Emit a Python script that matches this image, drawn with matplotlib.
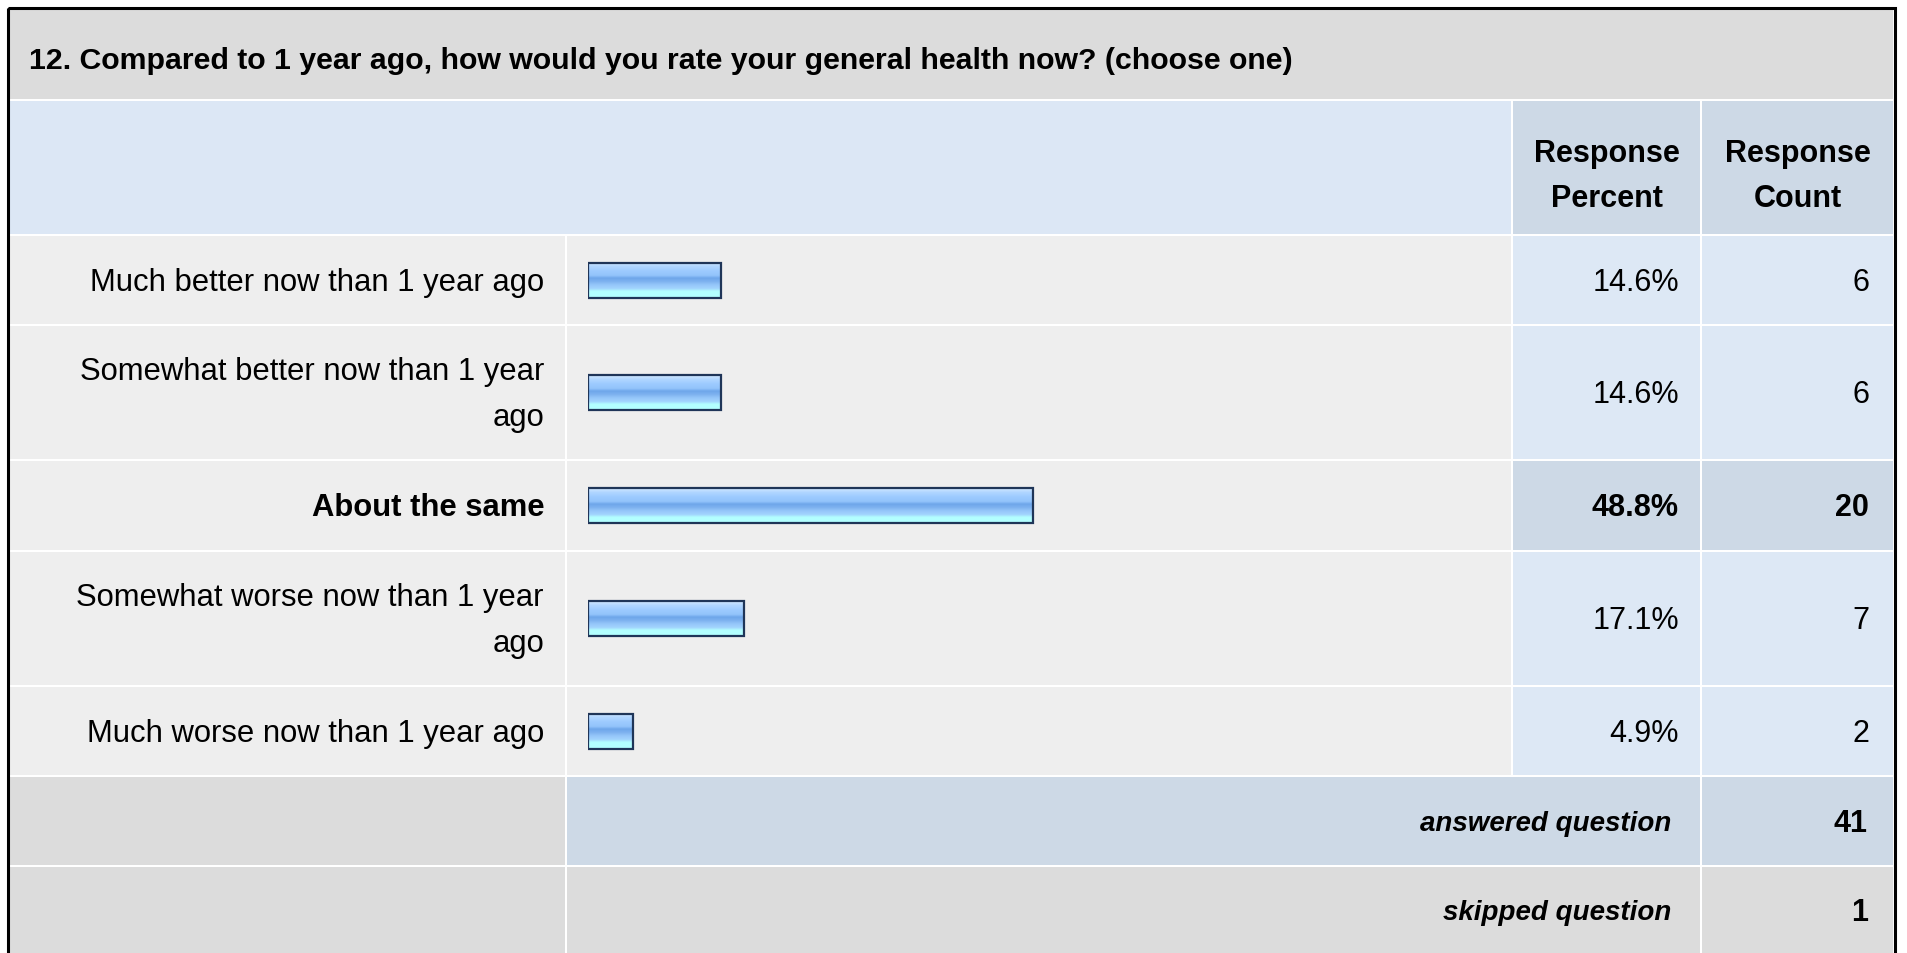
import numpy as np
import matplotlib
matplotlib.use("Agg")
import matplotlib.pyplot as plt
from matplotlib.patches import Rectangle
from matplotlib.colors import to_rgb

# ---------------- data ----------------
title = "12. Compared to 1 year ago, how would you rate your general health now? (choose one)"
categories = [
    "Much better now than 1 year ago",
    "Somewhat better now than 1 year\nago",
    "About the same",
    "Somewhat worse now than 1 year\nago",
    "Much worse now than 1 year ago",
]
percents = [14.6, 14.6, 48.8, 17.1, 4.9]
counts = [6, 6, 20, 7, 2]
header_percent = "Response\nPercent"
header_count = "Response\nCount"
answered_label = "answered question"
skipped_label = "skipped question"
answered = 41
skipped = 1

# ---------------- style / layout ----------------
W, H = 1907, 954
FONT = "Liberation Sans"
FS = 22
FS_LABEL = 22.3
FS_ITAL = 20
C_TITLE = "#dcdcdc"
C_HEAD = "#dce7f5"
C_HEAD_DARK = "#cdd9e6"
C_CELL = "#eeeeee"
C_VAL = "#dde8f5"
C_GRAY = "#dcdcdc"

# column edges (px)
X_L0, X_L1 = 9, 565
X_B0, X_B1 = 567, 1511
X_P0, X_P1 = 1513, 1700
X_C0, X_C1 = 1702, 1893
# row edges (px)
title_row = (10, 100)
head_row = (102, 235)
data_rows = [(237, 325), (327, 460), (462, 551), (553, 686), (688, 776)]
ans_row = (778, 866)
skip_row = (868, 956)

fig = plt.figure(figsize=(W / 100, H / 100), dpi=100)
fig.patch.set_facecolor("white")
ax = fig.add_axes([0, 0, 1, 1])
ax.set_xlim(0, W)
ax.set_ylim(H, 0)
ax.axis("off")


def cell(x0, x1, yr, color):
    ax.add_patch(Rectangle((x0, yr[0]), x1 - x0, yr[1] - yr[0],
                           facecolor=color, edgecolor="none", zorder=1))


def txt(x, y, s, ha="right", weight="normal", style="normal", size=FS):
    ax.text(x, y, s, ha=ha, va="center", fontsize=size, family=FONT,
            fontweight=weight, fontstyle=style, color="black", zorder=5)


# title row
cell(X_L0, X_C1, title_row, C_TITLE)
txt(29, 61, title, ha="left", weight="bold", size=21.8)

# header row
cell(X_L0, X_B1, head_row, C_HEAD)
cell(X_P0, X_P1, head_row, C_HEAD_DARK)
cell(X_C0, X_C1, head_row, C_HEAD_DARK)
hc = sum(head_row) / 2 + 8
for s, xc in ((header_percent, (X_P0 + X_P1) / 2), (header_count, (X_C0 + X_C1) / 2)):
    l1, l2 = s.split("\n")
    txt(xc, hc - 22.5, l1, ha="center", weight="bold")
    txt(xc, hc + 22.5, l2, ha="center", weight="bold")

# data rows
top = int(np.argmax(counts))
centers = []
for i, (cat, p, c, yr) in enumerate(zip(categories, percents, counts, data_rows)):
    yc = sum(yr) / 2
    centers.append(yc)
    hi = i == top
    wt = "bold" if hi else "normal"
    cell(X_L0, X_L1, yr, C_CELL)
    cell(X_B0, X_B1, yr, C_CELL)
    cell(X_P0, X_P1, yr, C_HEAD_DARK if hi else C_VAL)
    cell(X_C0, X_C1, yr, C_HEAD_DARK if hi else C_VAL)
    lines = cat.split("\n")
    n = len(lines)
    for k, line in enumerate(lines):
        txt(544, yc + 2 + (k - (n - 1) / 2) * 46, line, weight=wt,
            size=FS_LABEL)
    txt(1679, yc + 2, f"{p:.1f}%", weight=wt)
    txt(1869, yc + 2, f"{c}", weight=wt)

# answered / skipped
cell(X_L0, X_L1, ans_row, C_GRAY)
cell(X_B0, X_P1, ans_row, C_HEAD_DARK)
cell(X_C0, X_C1, ans_row, C_HEAD_DARK)
txt(1671, sum(ans_row) / 2 + 2, answered_label, weight="bold", style="italic",
    size=FS_ITAL)
txt(1868, sum(ans_row) / 2 + 2, f"{answered}", weight="bold")

cell(X_L0, X_L1, skip_row, C_GRAY)
cell(X_B0, X_P1, skip_row, C_GRAY)
cell(X_C0, X_C1, skip_row, C_GRAY)
txt(1671, (skip_row[0] + H) / 2 + 2, skipped_label, weight="bold",
    style="italic", size=FS_ITAL)
txt(1868, (skip_row[0] + H) / 2 + 2, f"{skipped}", weight="bold")

# outer frame
ax.add_patch(Rectangle((7.5, 8.5), 1887, 1000, facecolor="none",
                       edgecolor="black", linewidth=2.2, zorder=6))

# ---------------- bars ----------------
BAR_X0, BAR_FULL = 588, 912  # px for 0 and width of 100 %
bx = fig.add_axes([BAR_X0 / W, 0, BAR_FULL / W, 1])
bx.set_xlim(0, 100)
bx.set_ylim(H, 0)
bx.axis("off")
bx.patch.set_alpha(0)

stops = [(0.00, "#d2e8ff"), (0.12, "#b0d6ff"), (0.25, "#9dcbff"),
         (0.38, "#93c4fb"), (0.46, "#6ea6ea"), (0.56, "#7fb3f0"),
         (0.66, "#96c7fa"), (0.76, "#a2d4fd"), (0.84, "#b3ffff"),
         (1.00, "#b3ffff")]
pos = np.linspace(0, 1, 64)
grad = np.zeros((64, 1, 3))
for ch in range(3):
    grad[:, 0, ch] = np.interp(pos, [s[0] for s in stops],
                               [to_rgb(s[1])[ch] for s in stops])

BH = 35
bars = bx.barh(centers, percents, height=BH, left=0, facecolor="none",
               edgecolor="#1f3558", linewidth=1.6, zorder=4)
for b, yc, p in zip(bars, centers, percents):
    im = bx.imshow(grad, extent=(0, p, yc + BH / 2, yc - BH / 2),
                   aspect="auto", origin="upper", zorder=3,
                   interpolation="bilinear")
    im.set_clip_path(b)
bx.set_xlim(0, 100)
bx.set_ylim(H, 0)

fig.savefig("out.png", dpi=100, facecolor="white")
